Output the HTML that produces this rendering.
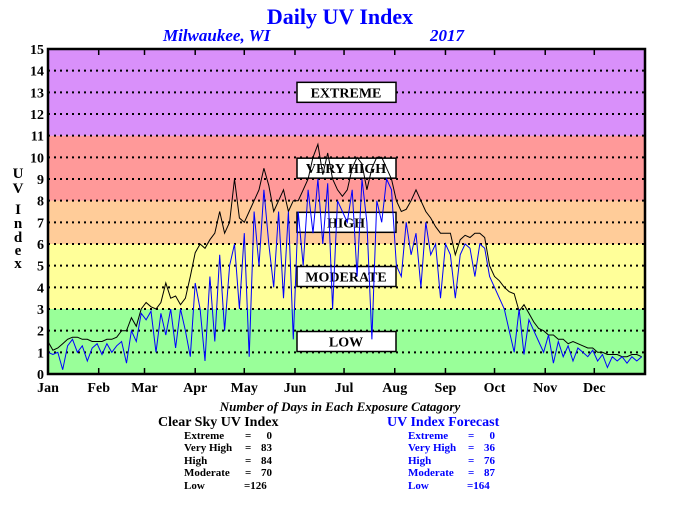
<!DOCTYPE html>
<html><head><meta charset="utf-8"><style>
body{margin:0;background:#fff;}
svg text{font-family:"Liberation Serif",serif;font-weight:bold;}
</style></head><body>
<svg id="chart" width="680" height="500" xmlns="http://www.w3.org/2000/svg">
<text x="340" y="24" text-anchor="middle" font-size="22" fill="#0000ff">Daily UV Index</text>
<text x="163" y="41" font-size="17" font-style="italic" fill="#0000ff">Milwaukee, WI</text>
<text x="430" y="41" font-size="17" font-style="italic" fill="#0000ff">2017</text>
<g id="bands"></g><g id="grid"></g><g id="boxes"></g><g id="lines"></g><g id="axes"></g>
<text font-size="15" fill="#000" text-anchor="middle">
<tspan x="18" y="178">U</tspan><tspan x="18" y="193">V</tspan><tspan x="18" y="214">I</tspan><tspan x="18" y="228">n</tspan><tspan x="18" y="242">d</tspan><tspan x="18" y="255">e</tspan><tspan x="18" y="268">x</tspan></text>
<text x="340" y="411" text-anchor="middle" font-size="13" font-style="italic" fill="#000">Number of Days in Each Exposure Catagory</text>
<g fill="#000">
<text x="158" y="426" font-size="14">Clear Sky UV Index</text>
<g font-size="11"><text x="184" y="439">Extreme</text><text x="245" y="439">=</text><text x="272" y="439" text-anchor="end">0</text>
<text x="184" y="451">Very High</text><text x="245" y="451">=</text><text x="272" y="451" text-anchor="end">83</text>
<text x="184" y="464">High</text><text x="245" y="464">=</text><text x="272" y="464" text-anchor="end">84</text>
<text x="184" y="476">Moderate</text><text x="245" y="476">=</text><text x="272" y="476" text-anchor="end">70</text>
<text x="184" y="489">Low</text><text x="244" y="489">=126</text></g></g>
<g fill="#0000ff">
<text x="387" y="426" font-size="14">UV Index Forecast</text>
<g font-size="11"><text x="408" y="439">Extreme</text><text x="468" y="439">=</text><text x="495" y="439" text-anchor="end">0</text>
<text x="408" y="451">Very High</text><text x="468" y="451">=</text><text x="495" y="451" text-anchor="end">36</text>
<text x="408" y="464">High</text><text x="468" y="464">=</text><text x="495" y="464" text-anchor="end">76</text>
<text x="408" y="476">Moderate</text><text x="468" y="476">=</text><text x="495" y="476" text-anchor="end">87</text>
<text x="408" y="489">Low</text><text x="467" y="489">=164</text></g></g>
</svg>
<script>
const months=["Jan","Feb","Mar","Apr","May","Jun","Jul","Aug","Sep","Oct","Nov","Dec"];
const monthStartDays=[0,31,59,90,120,151,181,212,243,273,304,334];
const yTicks=[0,1,2,3,4,5,6,7,8,9,10,11,12,13,14,15];
const bandNames=["LOW","MODERATE","HIGH","VERY HIGH","EXTREME"];
const bandLimits=[0,3,6,8,11,15];
const bandLabelValues=[1.5,4.5,7,9.5,13];
const sampleStep=3;
const clearSky=[1.5,1.1,1.2,1.4,1.6,1.7,1.7,1.6,1.6,1.5,1.5,
1.5,1.6,1.6,1.7,2.0,2.0,2.6,2.2,3.0,
3.3,3.1,3.0,3.3,4.2,3.5,3.6,3.2,3.5,4.5,5.6,
6.0,5.8,6.2,6.5,7.5,6.5,7.0,9.0,7.2,
7.0,7.5,8.0,8.5,9.5,8.7,7.5,8.0,8.5,7.5,8.0,
8.0,8.5,9.0,10.0,10.6,9.2,10.2,9.0,8.5,8.2,
8.5,9.5,10.0,9.7,8.5,9.5,10.0,10.0,9.5,9.0,
8.0,7.5,7.6,8.0,8.5,8.0,7.5,7.2,6.8,6.5,
6.5,6.5,5.5,6.2,6.4,6.3,6.5,6.5,6.3,5.0,
4.5,4.3,4.0,3.8,3.7,2.9,3.2,2.8,2.4,2.1,
2.0,1.8,1.8,1.6,1.6,1.4,1.5,1.4,1.3,1.2,
1.2,1.0,1.0,0.9,0.9,0.9,0.8,0.8,0.9,0.9,0.8];
const forecast=[1.0,0.9,1.0,0.2,1.3,1.6,1.0,1.3,0.6,1.2,1.4,
0.9,1.4,1.0,1.3,1.5,0.5,2.0,1.5,2.8,
2.5,2.9,1.0,2.8,1.8,3.0,1.2,3.0,2.0,0.8,4.2,
3.0,0.6,4.5,1.5,5.5,2.0,5.0,6.0,3.0,
6.5,0.8,7.5,5.0,8.5,6.0,4.0,7.5,3.5,7.5,1.6,
7.5,5.0,8.5,6.5,9.0,6.0,8.8,3.0,8.0,7.5,
7.0,8.5,4.5,9.0,7.0,1.6,8.0,7.0,9.0,8.5,
5.0,4.5,7.0,5.5,6.5,4.0,7.0,5.5,6.0,3.5,
6.0,5.5,3.5,5.5,6.0,5.8,4.5,6.0,5.8,4.5,
4.0,3.5,3.0,2.0,1.0,3.0,0.9,2.5,2.0,1.5,
1.0,1.8,0.5,1.5,0.8,1.3,0.6,1.2,1.0,0.8,
1.1,0.6,0.9,0.3,0.8,0.6,0.8,0.5,0.8,0.6,0.8];
const bandColors=["#99ff99","#ffff99","#ffcc99","#ff9999","#d990fa"];
const L=48,R=645,T=49,B=374;
const x=d=>L+d*(R-L)/365;
const y=v=>B-v*(B-T)/15;
const NS="http://www.w3.org/2000/svg";
function mk(tag,parent,attrs){const e=document.createElementNS(NS,tag);for(const k in attrs)e.setAttribute(k,attrs[k]);document.getElementById(parent).appendChild(e);return e;}
for(let i=0;i<bandColors.length;i++){
 const r=mk("rect","bands",{x:L,y:y(bandLimits[i+1]),width:R-L,height:y(bandLimits[i])-y(bandLimits[i+1]),fill:bandColors[i]});
 
 
}
yTicks.forEach(v=>{
 if(v>0&&v<15){const g=mk("line","grid",{x1:L,x2:R,y1:y(v),y2:y(v),stroke:"#000","stroke-width":2,"stroke-dasharray":"2,4"});
 
 }
 const t=mk("text","axes",{x:44,y:y(v)+5,"text-anchor":"end","font-size":14,fill:"#000"});
 t.textContent=v;
 
 
});
function series(vals,color,name){
 const pts=vals.map((v,i)=>x(i*sampleStep).toFixed(1)+","+y(v).toFixed(1)).join(" ");
 const p=mk("polyline","lines",{points:pts,fill:"none",stroke:color,"stroke-width":1});
 
 
}
series(clearSky,"#000","clear-sky-line");
series(forecast,"#0000ff","forecast-line");
bandNames.forEach((n,i)=>{
 const cy=y(bandLabelValues[i]);
 const r=mk("rect","boxes",{x:297,y:cy-10,width:99,height:20,fill:"#fff",stroke:"#000","stroke-width":1.5});
 
 
 const t=mk("text","boxes",{x:346,y:cy+5,"text-anchor":"middle","font-size":14,fill:"#000"});
 t.textContent=n;
 
 
});
months.forEach((m,i)=>{
 const xx=x(monthStartDays[i]);
 if(i>0){
 const a=mk("line","axes",{x1:xx,x2:xx,y1:B,y2:B-6,stroke:"#000","stroke-width":1.5});
 
 
 const b=mk("line","axes",{x1:xx,x2:xx,y1:T,y2:T+6,stroke:"#000","stroke-width":1.5});
 
 }
 const t=mk("text","axes",{x:xx,y:392,"text-anchor":"middle","font-size":14,fill:"#000"});
 t.textContent=m;
 
 
});
const f=mk("rect","axes",{x:L,y:T,width:R-L,height:B-T,fill:"none",stroke:"#000","stroke-width":2.5});


</script>
</body></html>
